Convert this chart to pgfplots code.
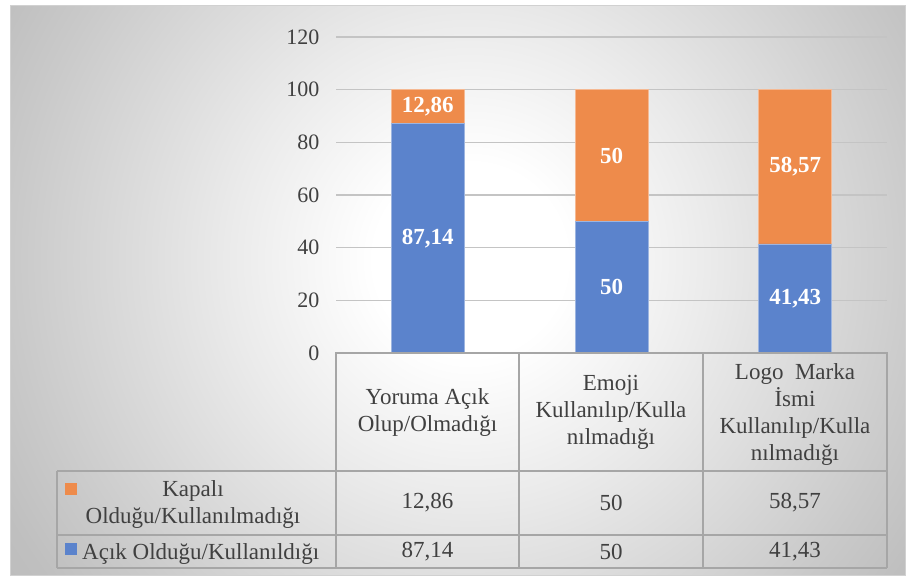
\documentclass[border=0pt]{standalone}
\usepackage{pgfplots}
\pgfplotsset{compat=1.18}
\usepackage{fontspec}
\setmainfont{Liberation Serif}
\definecolor{barblue}{HTML}{5B83CC}
\definecolor{barorange}{HTML}{EE8B4B}
\definecolor{txt}{HTML}{404040}
\definecolor{gridc}{HTML}{C4C4C4}
\definecolor{tabline}{HTML}{A6A6A6}
\pgfdeclareradialshading{chartbg}{\pgfpoint{0bp}{0bp}}{color(0bp)=(white); color(4bp)=(white); color(10bp)=(white!92!black); color(19bp)=(white!79!black); color(22bp)=(white!75!black); color(25bp)=(white!73!black); color(50bp)=(white!73!black)}
\newcommand{\tf}{\fontsize{23}{27}\selectfont}
\begin{document}
\begin{tikzpicture}[x=1pt,y=1pt]
\fill[white] (0,0) rectangle (910,-579);
\begin{scope}
\clip (10,-5) rectangle (905,-575);
\shade[shading=chartbg] (470,-260) circle (600);
\end{scope}
\draw[white!82!black] (10,-5) rectangle (905,-575);
\begin{axis}[
  at={(336pt,-353pt)}, anchor=south west,
  scale only axis, width=551pt, height=316pt,
  ybar stacked, bar width=73pt,
  xmin=-0.5, xmax=2.5, ymin=0, ymax=120,
  ytick={0,20,...,120}, xtick=\empty,
  axis line style={draw=none}, major tick length=0pt,
  ymajorgrids, grid style={gridc, line width=1.3pt},
  yticklabel style={font=\fontsize{22}{22}\selectfont, text=txt, xshift=-13pt},
  /pgf/number format/assume math mode=true,
  nodes near coords={\pgfmathprintnumber[use comma,fixed,precision=2]{\pgfplotspointmeta}},
  nodes near coords style={font=\bfseries\fontsize{23}{23}\selectfont, text=white, anchor=center},
]
\addplot[fill=barblue, draw=barblue!60!white, line width=0.8pt] coordinates {(0,87.14) (1,50) (2,41.43)};
\addplot[fill=barorange, draw=barorange!60!white, line width=0.8pt] coordinates {(0,12.86) (1,50) (2,58.57)};
\end{axis}
% data table
\begin{scope}[tabline, line width=1.6pt]
\draw[line width=2.6pt] (335,-353) -- (888,-353);
\draw (336,-353) -- (336,-568);
\draw (519,-353) -- (519,-568);
\draw (703,-353) -- (703,-568);
\draw (887,-353) -- (887,-568);
\draw (57,-471) -- (887,-471);
\draw (57,-535) -- (887,-535);
\draw (57,-568) -- (887,-568);
\draw (57,-471) -- (57,-568);
\end{scope}
\begin{scope}[every node/.style={text=txt, font=\tf, align=center, inner sep=0pt}]
\node at (427.5,-412) {Yoruma Açık\\Olup/Olmadığı};
\node at (611,-412) {Emoji\\Kullanılıp/Kulla\\nılmadığı};
\node at (795,-414) {Logo\ \ Marka\\İsmi\\Kullanılıp/Kulla\\nılmadığı};
\node at (427.5,-503) {12,86};
\node at (611,-503) {50};
\node at (795,-503) {58,57};
\node at (427.5,-552) {87,14};
\node at (611,-552) {50};
\node at (795,-552) {41,43};
\node at (193,-504) {Kapalı\\Olduğu/Kullanılmadığı};
\node[anchor=base west] at (82,-559) {Açık Olduğu/Kullanıldığı};
\end{scope}
\fill[barorange] (65,-483) rectangle (77,-495);
\fill[barblue] (65,-543) rectangle (77,-555);
\end{tikzpicture}
\end{document}
